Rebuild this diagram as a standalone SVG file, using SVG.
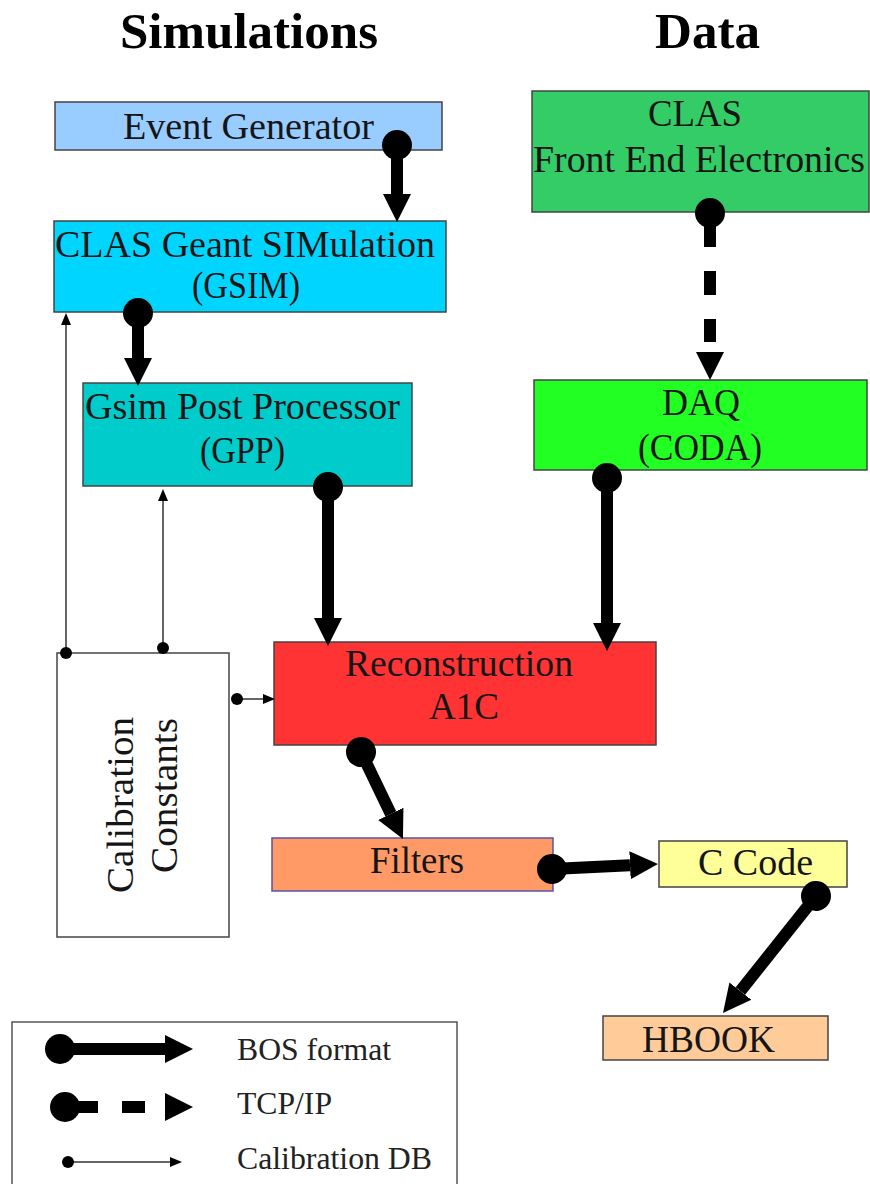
<svg xmlns="http://www.w3.org/2000/svg" width="870" height="1184" viewBox="0 0 870 1184">
  <style>
    .title { font-family: "Liberation Serif", "Times New Roman", serif; font-weight: bold; font-size: 51px; fill: #000; }
    .lbl { font-family: "Liberation Serif", "Times New Roman", serif; font-size: 37px; fill: #151515; }
    .leg { font-family: "Liberation Serif", "Times New Roman", serif; font-size: 32px; fill: #222; }
    .box { stroke: #444; stroke-width: 1.5; }
    .bos { fill: none; stroke: #000; stroke-width: 12; }
    .tcp { fill: none; stroke: #000; stroke-width: 12; }
    .cal { fill: none; stroke: #333; stroke-width: 1.5; }
  </style>
  <defs>
    <!-- thick data-flow connector ends -->
    <marker id="bosDot" markerUnits="userSpaceOnUse" markerWidth="32" markerHeight="32" refX="16" refY="16" orient="auto">
      <circle cx="16" cy="16" r="15" fill="#000"/>
    </marker>
    <marker id="bosHead" markerUnits="userSpaceOnUse" markerWidth="30" markerHeight="30" refX="0" refY="15" orient="auto">
      <path d="M0,1 L28,15 L0,29 Z" fill="#000"/>
    </marker>
    <!-- thin calibration-DB connector ends -->
    <marker id="calDot" markerUnits="userSpaceOnUse" markerWidth="14" markerHeight="14" refX="7" refY="7" orient="auto">
      <circle cx="7" cy="7" r="6" fill="#000"/>
    </marker>
    <marker id="calHead" markerUnits="userSpaceOnUse" markerWidth="14" markerHeight="12" refX="0" refY="6" orient="auto">
      <path d="M0,1 L12,6 L0,11 Z" fill="#000"/>
    </marker>
  </defs>

  <rect width="870" height="1184" fill="#fff"/>

  <!-- column headings -->
  <text class="title" x="120" y="48" textLength="258" lengthAdjust="spacingAndGlyphs">Simulations</text>
  <text class="title" x="655" y="48" textLength="105" lengthAdjust="spacingAndGlyphs">Data</text>

  <g id="event-generator">
    <rect class="box" x="55" y="102" width="387" height="48" fill="#99CCFF"/>
    <text class="lbl" x="123" y="139" textLength="251" lengthAdjust="spacingAndGlyphs">Event Generator</text>
  </g>

  <g id="gsim">
    <rect class="box" x="54" y="221" width="392" height="91" fill="#00D5FF"/>
    <text class="lbl" x="55" y="257" textLength="380" lengthAdjust="spacingAndGlyphs">CLAS Geant SIMulation</text>
    <text class="lbl" x="192" y="298" textLength="108" lengthAdjust="spacingAndGlyphs">(GSIM)</text>
  </g>

  <g id="front-end">
    <rect class="box" x="532" y="91" width="337" height="121" fill="#33CC66"/>
    <text class="lbl" x="648" y="126" textLength="94" lengthAdjust="spacingAndGlyphs">CLAS</text>
    <text class="lbl" x="533" y="172" textLength="332" lengthAdjust="spacingAndGlyphs">Front End Electronics</text>
  </g>

  <g id="daq">
    <rect class="box" x="534" y="380" width="333" height="90" fill="#22FF22"/>
    <text class="lbl" x="662" y="415" textLength="78" lengthAdjust="spacingAndGlyphs">DAQ</text>
    <text class="lbl" x="638" y="460" textLength="124" lengthAdjust="spacingAndGlyphs">(CODA)</text>
  </g>

  <g id="gpp">
    <rect class="box" x="83" y="383" width="329" height="103" fill="#00CCCC"/>
    <text class="lbl" x="85" y="419" textLength="315" lengthAdjust="spacingAndGlyphs">Gsim Post Processor</text>
    <text class="lbl" x="200" y="463" textLength="85" lengthAdjust="spacingAndGlyphs">(GPP)</text>
  </g>

  <g id="calibration-constants">
    <rect class="box" x="57" y="653" width="172" height="284" fill="#fff" stroke="#555"/>
    <text class="lbl" transform="translate(133,893) rotate(-90)" textLength="176" lengthAdjust="spacingAndGlyphs">Calibration</text>
    <text class="lbl" transform="translate(177,873) rotate(-90)" textLength="155" lengthAdjust="spacingAndGlyphs">Constants</text>
  </g>

  <g id="reconstruction">
    <rect class="box" x="274" y="642" width="382" height="103" fill="#FF3333"/>
    <text class="lbl" x="345" y="676" textLength="228" lengthAdjust="spacingAndGlyphs">Reconstruction</text>
    <text class="lbl" x="429" y="719" textLength="70" lengthAdjust="spacingAndGlyphs">A1C</text>
  </g>

  <g id="filters">
    <rect x="272" y="838" width="281" height="53" fill="#FF9966" stroke="#5555AA" stroke-width="1.5"/>
    <text class="lbl" x="370" y="873" textLength="94" lengthAdjust="spacingAndGlyphs">Filters</text>
  </g>

  <g id="c-code">
    <rect class="box" x="659" y="841" width="188" height="46" fill="#FFFF99"/>
    <text class="lbl" x="698" y="875" textLength="115" lengthAdjust="spacingAndGlyphs">C Code</text>
  </g>

  <g id="hbook">
    <rect class="box" x="603" y="1016" width="225" height="44" fill="#FFCC99"/>
    <text class="lbl" x="642" y="1052" textLength="133" lengthAdjust="spacingAndGlyphs">HBOOK</text>
  </g>

  <g id="connectors">
    <!-- BOS format streams -->
    <path class="bos" d="M397,145 L397,194" marker-start="url(#bosDot)" marker-end="url(#bosHead)"/>
    <path class="bos" d="M138,313 L138,358" marker-start="url(#bosDot)" marker-end="url(#bosHead)"/>
    <path class="bos" d="M328,487 L328,618" marker-start="url(#bosDot)" marker-end="url(#bosHead)"/>
    <path class="bos" d="M607,478 L607,623" marker-start="url(#bosDot)" marker-end="url(#bosHead)"/>
    <path class="bos" d="M361,752 L390.8,813.8" marker-start="url(#bosDot)" marker-end="url(#bosHead)"/>
    <path class="bos" d="M552,869 L630,865.3" marker-start="url(#bosDot)" marker-end="url(#bosHead)"/>
    <path class="bos" d="M816,896 L740.4,991.1" marker-start="url(#bosDot)" marker-end="url(#bosHead)"/>
    <!-- TCP/IP link -->
    <path class="tcp" d="M710,213 L710,352" stroke-dasharray="34 24 24 24 23 20" marker-start="url(#bosDot)" marker-end="url(#bosHead)"/>
    <!-- calibration database lookups -->
    <path class="cal" d="M66,653 L66,325" marker-start="url(#calDot)" marker-end="url(#calHead)"/>
    <path class="cal" d="M163,648 L163,501" marker-start="url(#calDot)" marker-end="url(#calHead)"/>
    <path class="cal" d="M237,699 L263,699" marker-start="url(#calDot)" marker-end="url(#calHead)"/>
  </g>

  <g id="legend">
    <rect x="12" y="1022" width="445" height="175" fill="#fff" stroke="#555" stroke-width="1.5"/>
    <path class="bos" d="M60,1049 L165,1049" marker-start="url(#bosDot)" marker-end="url(#bosHead)"/>
    <text class="leg" x="237" y="1060" textLength="154" lengthAdjust="spacingAndGlyphs">BOS format</text>
    <path class="tcp" d="M65,1107 L165,1107" stroke-dasharray="33 24 23 20" marker-start="url(#bosDot)" marker-end="url(#bosHead)"/>
    <text class="leg" x="237" y="1114" textLength="95" lengthAdjust="spacingAndGlyphs">TCP/IP</text>
    <path class="cal" d="M68,1162 L170,1162" marker-start="url(#calDot)" marker-end="url(#calHead)"/>
    <text class="leg" x="237" y="1169" textLength="195" lengthAdjust="spacingAndGlyphs">Calibration DB</text>
  </g>
</svg>
